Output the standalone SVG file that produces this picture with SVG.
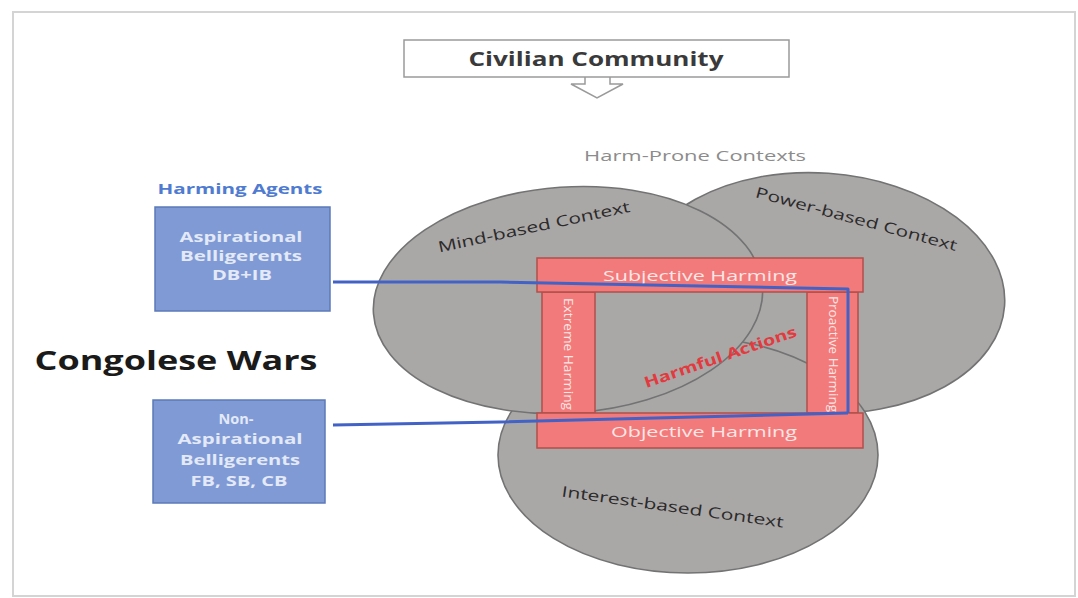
<svg xmlns="http://www.w3.org/2000/svg" width="1078" height="598" viewBox="0 0 1078 598">
  <style>
    .ctx { fill: #aaa7a7; stroke: #737373; stroke-width: 1.6; }
    .ctxlabel { font-family: "Open Sans", "Liberation Sans", sans-serif; font-size: 15px; fill: #2a2a2a; text-anchor: middle; }
    .bar { fill: #f27a7a; stroke: #b0504c; stroke-width: 1.5; }
    .barlabel { font-family: "Open Sans", "Liberation Sans", sans-serif; font-size: 15px; fill: #fbe6e6; text-anchor: middle; }
    .pillarlabel { font-family: "Open Sans", "Liberation Sans", sans-serif; font-size: 13px; fill: #fbe6e6; text-anchor: middle; }
    .agent { fill: #7f9ad5; stroke: #5c79b8; stroke-width: 1.5; }
    .agentlabel { font-family: "Open Sans", "Liberation Sans", sans-serif; font-size: 15px; font-weight: bold; fill: #e3e9f6; text-anchor: middle; }
    .link { fill: none; stroke: #4262c6; stroke-width: 3; stroke-linejoin: round; }
  </style>

  <!-- page frame -->
  <rect x="13" y="12" width="1062" height="584" fill="#ffffff" stroke="#d4d4d4" stroke-width="2"/>

  <!-- top heading with down arrow -->
  <g id="civilian-community">
    <path d="M585,77 L585,84 L571,84 L597,98 L623,84 L610,84 L610,77" fill="#ffffff" stroke="#9a9a9a" stroke-width="1.5"/>
    <rect x="404" y="40" width="385" height="37" fill="#ffffff" stroke="#9a9a9a" stroke-width="1.5"/>
    <text x="596" y="66" font-family="Open Sans, Liberation Sans, sans-serif" font-size="19" font-weight="bold" fill="#3a3a3a" text-anchor="middle" textLength="255" lengthAdjust="spacingAndGlyphs">Civilian Community</text>
  </g>

  <text x="695" y="161" font-family="Open Sans, Liberation Sans, sans-serif" font-size="15" fill="#8c8c8c" text-anchor="middle" textLength="222" lengthAdjust="spacingAndGlyphs">Harm-Prone Contexts</text>

  <!-- context ellipses -->
  <g id="power-context">
    <ellipse class="ctx" cx="820" cy="293" rx="185" ry="120" transform="rotate(4 820 293)"/>
    <text class="ctxlabel" transform="translate(855 224) rotate(15)" textLength="208" lengthAdjust="spacingAndGlyphs">Power-based Context</text>
  </g>
  <g id="interest-context">
    <ellipse class="ctx" cx="688" cy="455" rx="190" ry="118"/>
    <text class="ctxlabel" transform="translate(672 512) rotate(8)" textLength="224" lengthAdjust="spacingAndGlyphs">Interest-based Context</text>
  </g>
  <g id="mind-context">
    <ellipse class="ctx" cx="568" cy="300" rx="195" ry="113" transform="rotate(-4 568 300)"/>
    <text class="ctxlabel" transform="translate(535 232) rotate(-12)" textLength="196" lengthAdjust="spacingAndGlyphs">Mind-based Context</text>
  </g>

  <!-- harming frame -->
  <g id="extreme-harming">
    <rect class="bar" x="542" y="292" width="53" height="121"/>
    <text class="pillarlabel" transform="translate(564 354) rotate(90)" textLength="112" lengthAdjust="spacingAndGlyphs">Extreme Harming</text>
  </g>
  <g id="proactive-harming">
    <rect class="bar" x="807" y="292" width="51" height="121"/>
    <text class="pillarlabel" transform="translate(829 354) rotate(90)" textLength="116" lengthAdjust="spacingAndGlyphs">Proactive Harming</text>
  </g>
  <g id="subjective-harming">
    <rect class="bar" x="537" y="258" width="326" height="34"/>
    <text class="barlabel" x="700" y="281" textLength="194" lengthAdjust="spacingAndGlyphs">Subjective Harming</text>
  </g>
  <g id="objective-harming">
    <rect class="bar" x="537" y="413" width="326" height="35"/>
    <text class="barlabel" x="704" y="437" textLength="186" lengthAdjust="spacingAndGlyphs">Objective Harming</text>
  </g>
  <g id="harmful-actions">
    <text transform="translate(722 362) rotate(-19)" font-family="Open Sans, Liberation Sans, sans-serif" font-size="15" font-weight="bold" fill="#e23a3e" text-anchor="middle" textLength="160" lengthAdjust="spacingAndGlyphs">Harmful Actions</text>
  </g>

  <!-- harming agents -->
  <text x="240" y="194" font-family="Open Sans, Liberation Sans, sans-serif" font-size="14" font-weight="bold" fill="#4f7bd0" text-anchor="middle" textLength="165" lengthAdjust="spacingAndGlyphs">Harming Agents</text>

  <g id="aspirational">
    <rect class="agent" x="155" y="207" width="175" height="104"/>
    <text class="agentlabel" x="241" y="242" textLength="123" lengthAdjust="spacingAndGlyphs">Aspirational</text>
    <text class="agentlabel" x="241" y="261" textLength="122" lengthAdjust="spacingAndGlyphs">Belligerents</text>
    <text class="agentlabel" x="242" y="280" textLength="60" lengthAdjust="spacingAndGlyphs">DB+IB</text>
  </g>

  <g id="non-aspirational">
    <rect class="agent" x="153" y="400" width="172" height="103"/>
    <text class="agentlabel" x="236" y="424" textLength="35" lengthAdjust="spacingAndGlyphs">Non-</text>
    <text class="agentlabel" x="240" y="444" textLength="125" lengthAdjust="spacingAndGlyphs">Aspirational</text>
    <text class="agentlabel" x="240" y="465" textLength="120" lengthAdjust="spacingAndGlyphs">Belligerents</text>
    <text class="agentlabel" x="239" y="486" textLength="97" lengthAdjust="spacingAndGlyphs">FB, SB, CB</text>
  </g>

  <text x="176" y="370" font-family="Open Sans, Liberation Sans, sans-serif" font-size="27" font-weight="bold" fill="#1a1a1a" text-anchor="middle" textLength="283" lengthAdjust="spacingAndGlyphs">Congolese Wars</text>

  <!-- connectors -->
  <g id="connectors">
    <path class="link" d="M333,282 L500,282 L848,289 L848,413"/>
    <path class="link" d="M333,425 L500,422 L848,413"/>
  </g>
</svg>
